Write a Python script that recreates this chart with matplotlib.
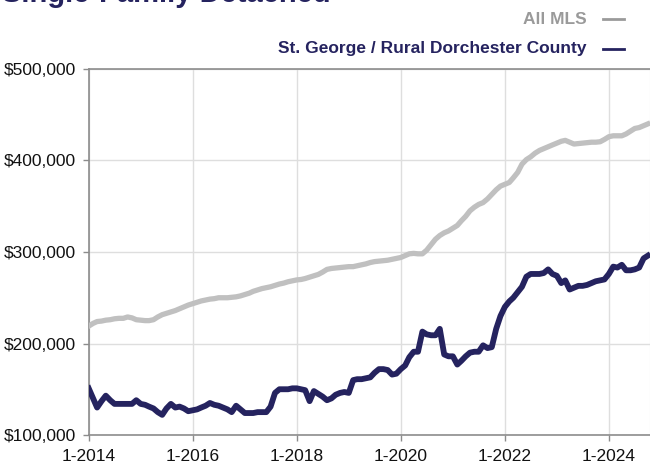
#!/usr/bin/env python3
"""
Median sales price, single-family detached: St. George / Rural Dorchester vs All MLS
"""

import numpy as np
import pandas as pd
import matplotlib
matplotlib.use('Agg')
import matplotlib.pyplot as plt
from matplotlib.lines import Line2D
from matplotlib.ticker import FuncFormatter

plt.rcParams['font.family'] = ['Liberation Sans', 'DejaVu Sans']

# monthly values in $ thousands, 1-2014 .. 10-2024
all_mls = [
    219, 222, 224, 224.5, 225.5, 226, 227, 227.5, 227.5, 229, 228, 226,
    225.5, 225, 225, 226, 229, 231.5, 233, 234.5, 236, 238, 240, 242,
    243.5, 245, 246.5, 247.5, 248.5, 249, 250, 250, 250, 250.5, 251, 252,
    253.5, 255, 257, 258.5, 260, 261, 262, 263.5, 265, 266, 267.5, 268.5,
    269.5, 270, 271, 272.5, 274, 275.5, 278, 281, 282, 282.5, 283, 283.5,
    284, 284, 285, 286, 287, 288.5, 289.5, 290, 290.5, 291, 292, 293,
    294, 296, 298, 298.5, 298, 298, 302, 308, 314, 318, 321, 323,
    326, 329, 334, 339, 345, 349, 352, 354, 358, 363, 368, 372,
    374, 376, 381, 387, 396, 401, 404, 408, 411, 413, 415, 417,
    419, 421, 422, 420, 418, 418.5, 419, 419.5, 420, 420, 420.5, 423,
    426, 427, 427, 427, 429, 432, 435, 436, 438, 440,
]
st_george = [
    151, 140, 130, 137, 143, 138, 134, 134, 134, 134, 134, 138,
    134, 133, 131, 129, 125, 122, 129, 134, 130, 131, 129, 126,
    127, 128, 130, 132, 135, 133, 132, 130, 128, 125, 132, 128,
    124, 124, 124, 125, 125, 125, 131, 146, 150, 150, 150, 151,
    151, 150, 149, 137, 148, 145, 142, 138, 140, 144, 146, 147,
    146, 160, 161, 161, 162, 163, 168, 172, 172, 171, 166, 167,
    172, 176, 185, 191, 191, 213, 210, 209, 209, 216, 188, 186,
    186, 177, 181, 186, 190, 191, 191, 198, 195, 196, 216, 230,
    240, 246, 250, 256, 262, 273, 276, 276, 276, 277, 281, 276,
    274, 266, 269, 259, 261, 263, 263, 264, 266, 268, 269, 270,
    276, 284, 283, 286, 280, 280, 281, 283, 293, 296,
]
months = pd.date_range('2014-01-01', periods=len(all_mls), freq='MS')
tick_years = [2014, 2016, 2018, 2020, 2022, 2024]
y_ticks = [100000, 200000, 300000, 400000, 500000]

NAVY = '#25235f'
GRAY = '#c0c0c0'

fig = plt.figure(figsize=(6.5, 4.66), dpi=100)
ax = fig.add_axes([88.7 / 650, 1 - 435 / 466, 1 - 88.7 / 650, (435 - 69) / 466])

ax.plot(months, np.array(all_mls) * 1000, color=GRAY, lw=3.8,
        solid_joinstyle='round', zorder=3)
ax.plot(months, np.array(st_george) * 1000, color=NAVY, lw=4.2,
        solid_joinstyle='round', zorder=4)

ax.set_ylim(100000, 500000)
ax.set_xlim(pd.Timestamp('2014-01-01'), pd.Timestamp('2024-10-16'))
ax.set_yticks(y_ticks)
ax.yaxis.set_major_formatter(FuncFormatter(lambda v, p: '${:,.0f}'.format(v)))
ax.set_xticks([pd.Timestamp('{}-01-01'.format(y)) for y in tick_years])
ax.set_xticklabels(['1-{}'.format(y) for y in tick_years])

ax.grid(True, color='#dedede', lw=1.0, zorder=0)
ax.set_axisbelow(True)
for side in ['left', 'bottom', 'top']:
    ax.spines[side].set_color('#8c8c8c')
    ax.spines[side].set_linewidth(1.2)
ax.spines['right'].set_color('#dedede')
ax.tick_params(axis='both', direction='out', length=4, width=1.0,
               color='#8c8c8c', labelsize=12.5, labelcolor='#111111')
ax.tick_params(axis='y', pad=5)
ax.tick_params(axis='x', pad=6)

# title, cut off at the top of the image as in the source
fig.text(2 / 650, 1 - 2 / 466, 'Single-Family Detached', color=NAVY,
         fontsize=21, fontweight='bold', ha='left', va='baseline')

# legend built by hand, right aligned
legend = [('All MLS', '#9a9a9a', 19),
          ('St. George / Rural Dorchester County', NAVY, 49)]
for label, col, ypix in legend:
    fig.text(587 / 650, 1 - ypix / 466, label, color=col, fontsize=12.5,
             fontweight='bold', ha='right', va='center')
    fig.add_artist(Line2D([603 / 650, 624 / 650], [1 - ypix / 466, 1 - ypix / 466],
                          color=col, lw=2.0, transform=fig.transFigure))

fig.savefig('out.png', dpi=100)
